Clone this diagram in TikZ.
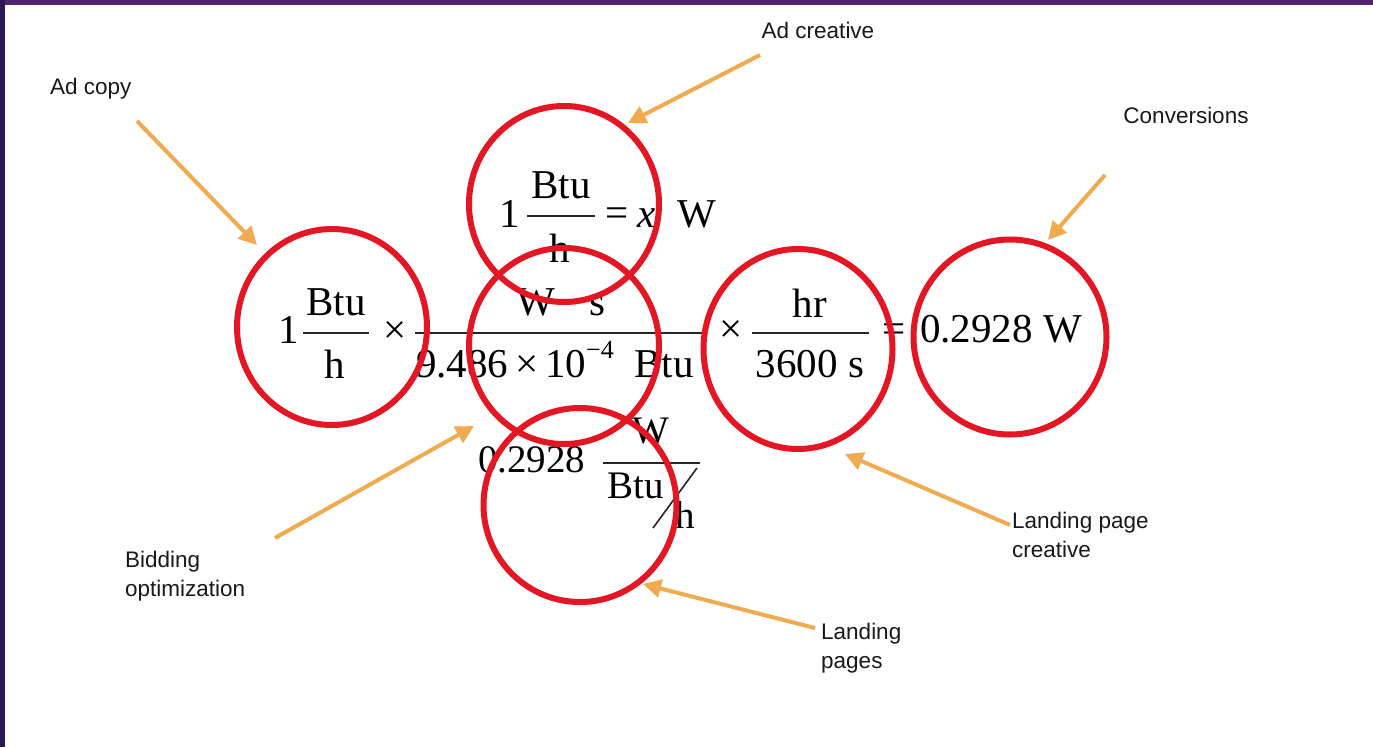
\documentclass[tikz,border=0pt]{standalone}
\usepackage{fontspec}
\setmainfont{Liberation Serif}
\newfontfamily\lblfont{Liberation Sans}
\usetikzlibrary{arrows.meta,shapes.geometric}
\definecolor{ringred}{RGB}{228,22,36}
\definecolor{arrorange}{RGB}{240,170,80}
\definecolor{bandpurple}{RGB}{82,36,112}
\definecolor{bandleft}{RGB}{44,22,86}
\tikzset{
  eq/.style={inner sep=0pt, font=\fontsize{41}{41}\selectfont},
  eqs/.style={inner sep=0pt, font=\fontsize{39}{39}\selectfont},
  bar/.style={line width=2pt, black!85},
  ring/.style={draw=ringred, line width=6pt, ellipse, inner sep=0pt},
  lbl/.style={inner sep=0pt, font=\lblfont\fontsize{22.5}{29}\selectfont, align=left, text=black!90},
  pointer/.style={draw=arrorange, line width=4pt, -{Triangle[length=18pt,width=18pt]}}
}
\begin{document}
\begin{tikzpicture}[x=1pt,y=-1pt]
\useasboundingbox (0,0) rectangle (1373,747);
\fill[white] (0,0) rectangle (1373,747);
% purple frame
\fill[bandpurple] (0,0) rectangle (1373,5);
\fill[bandleft] (0,0) rectangle (5,747);

% ---- main equation ----
\node[eq, anchor=base] (one) at (289,343) {1};
\node[eq, anchor=base] (n1) at (336,315) {Btu};
\node[eq, anchor=base] (d1) at (335,378) {h};
\coordinate (b1l) at (303,333); \coordinate (b1r) at (369,333);
\draw[bar] (b1l) -- (b1r);
\node[eq] (t1) at (395,333) {×};
\node[eq, anchor=base] (n2) at (561,315) {W · s};
\node[eq, anchor=base west] (d2) at (416,377) {9.486\,×\,10\raisebox{0.45em}{\fontsize{26}{26}\selectfont −4}\ \ Btu};
\coordinate (b2l) at (415,333); \coordinate (b2r) at (705,333);
\draw[bar] (b2l) -- (b2r);
\node[eq] (t2) at (731,332) {×};
\node[eq, anchor=base] (n3) at (810,317) {hr};
\node[eq, anchor=base] (d3) at (810,377) {3600 s};
\coordinate (b3l) at (752,333); \coordinate (b3r) at (869,333);
\draw[bar] (b3l) -- (b3r);
\node[eq] (eq1) at (894,333) {=};
\node[eq, anchor=base west] (res) at (920,342) {0.2928 W};

% ---- top equation ----
\node[eq, anchor=base] (tone) at (510,227) {1};
\node[eq, anchor=base] (tn) at (561,198) {Btu};
\node[eq, anchor=base] (td) at (560,262) {h};
\coordinate (tbl) at (527,216); \coordinate (tbr) at (595,216);
\draw[bar] (tbl) -- (tbr);
\node[eq] (teq) at (617,217) {=};
\node[eq, anchor=base] (tx) at (647,227) {\itshape x};
\node[eq, anchor=base west] (tw) at (677,227) {W};

% ---- bottom equation ----
\node[eqs, anchor=base west] (bnum) at (478,472) {0.2928};
\node[eqs, anchor=base] (bw) at (651,443) {W};
\node[eqs, anchor=base west] (bbtu) at (607,498) {Btu};
\node[eqs, anchor=base west] (bh) at (675,528) {h};
\coordinate (bbl) at (603,463); \coordinate (bbr) at (700,463);
\draw[bar] (bbl) -- (bbr);
\coordinate (sl1) at (653,528); \coordinate (sl2) at (697,468);
\draw[line width=1.6pt, black!85] (sl1) -- (sl2);

% ---- red rings ----
\node[ring, minimum width=190pt, minimum height=196pt] (rcopy) at (332,327) {};
\node[ring, minimum width=190pt, minimum height=196pt] (rcreat) at (564,204) {};
\node[ring, minimum width=190pt, minimum height=196pt] (rbid) at (564,346) {};
\node[ring, minimum width=193pt, minimum height=194pt] (rland) at (580,505) {};
\node[ring, minimum width=189pt, minimum height=200pt] (rlpc) at (798,349) {};
\node[ring, minimum width=193pt, minimum height=195pt] (rconv) at (1010,337) {};

% ---- labels ----
\node[lbl, anchor=west] (lcopy) at (50,89) {Ad copy};
\node[lbl] (lcreat) at (818,30) {Ad creative};
\node[lbl] (lconv) at (1186,115) {Conversions};
\node[lbl, anchor=north west] (llpc) at (1012,512) {Landing page\\creative};
\node[lbl, anchor=north west] (lbid) at (125,551) {Bidding\\optimization};
\node[lbl, anchor=north west] (lland) at (821,623) {Landing\\pages};

% ---- arrows ----
\coordinate (a1s) at (137,121); \coordinate (a1e) at (257,245);
\coordinate (a2s) at (760,55);  \coordinate (a2e) at (628,123);
\coordinate (a3s) at (1105,175); \coordinate (a3e) at (1048,240);
\coordinate (a4s) at (275,538); \coordinate (a4e) at (474,426);
\coordinate (a5s) at (1010,525); \coordinate (a5e) at (845,454);
\coordinate (a6s) at (815,628); \coordinate (a6e) at (643,584);
\draw[pointer] (a1s) -- (a1e);
\draw[pointer] (a2s) -- (a2e);
\draw[pointer] (a3s) -- (a3e);
\draw[pointer] (a4s) -- (a4e);
\draw[pointer] (a5s) -- (a5e);
\draw[pointer] (a6s) -- (a6e);
\end{tikzpicture}
\end{document}
